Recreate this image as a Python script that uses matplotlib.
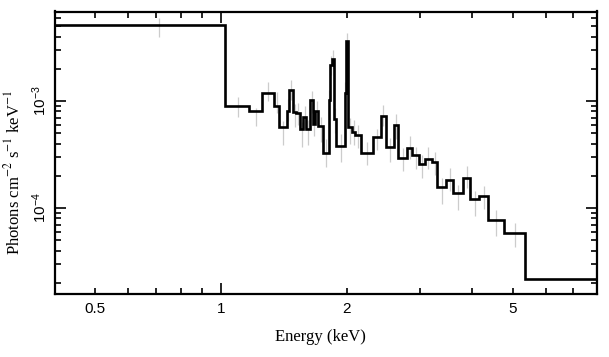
import matplotlib
matplotlib.use('Agg')
from matplotlib import pyplot as plt
from matplotlib.ticker import FixedLocator, FixedFormatter, LogLocator, NullFormatter
import numpy as np

# bin edges (keV) of the folded spectrum
edges = [0.4, 1.022, 1.169, 1.252, 1.342, 1.378, 1.437, 1.458, 1.492, 1.516,
         1.547, 1.573, 1.603, 1.635, 1.665, 1.682, 1.713, 1.761, 1.814, 1.825,
         1.845, 1.866, 1.892, 1.978, 1.994, 2.011, 2.058, 2.100, 2.169, 2.311,
         2.415, 2.487, 2.599, 2.650, 2.798, 2.867, 2.989, 3.085, 3.201, 3.302,
         3.464, 3.606, 3.811, 3.955, 4.164, 4.375, 4.771, 5.358, 10.5]

# model level in each bin (photons cm^-2 s^-1 keV^-1)
model = [5.13e-3, 8.98e-4, 8.01e-4, 1.20e-3, 8.98e-4, 5.75e-4, 8.11e-4, 1.28e-3,
         7.94e-4, 7.67e-4, 5.44e-4, 7.04e-4, 5.44e-4, 1.026e-3, 6.10e-4, 8.11e-4,
         5.84e-4, 3.30e-4, 1.015e-3, 2.17e-3, 2.45e-3, 6.75e-4, 3.76e-4, 1.18e-3,
         3.66e-3, 5.75e-4, 5.13e-4, 4.86e-4, 3.29e-4, 4.58e-4, 7.24e-4, 3.74e-4,
         5.97e-4, 2.91e-4, 3.61e-4, 3.13e-4, 2.58e-4, 2.85e-4, 2.71e-4, 1.58e-4,
         1.83e-4, 1.37e-4, 1.92e-4, 1.21e-4, 1.29e-4, 7.72e-5, 5.80e-5, 2.17e-5]

# data points with errors (light grey bars)
data = [5.0e-3, 9.0e-4, 7.2e-4, 1.25e-3, 1.0e-3, 5.2e-4, 8.5e-4, 1.3e-3,
        7.5e-4, 7.8e-4, 5.0e-4, 7.3e-4, 5.3e-4, 1.0e-3, 6.3e-4, 8.0e-4,
        5.6e-4, 3.4e-4, 1.0e-3, 2.2e-3, 2.5e-3, 6.8e-4, 3.8e-4, 1.2e-3,
        3.6e-3, 5.5e-4, 5.3e-4, 4.8e-4, 3.3e-4, 4.5e-4, 7.5e-4, 3.6e-4,
        6.0e-4, 2.9e-4, 3.8e-4, 3.0e-4, 2.5e-4, 3.0e-4, 2.7e-4, 1.5e-4,
        1.9e-4, 1.3e-4, 2.0e-4, 1.15e-4, 1.3e-4, 7.5e-5, 5.8e-5, 2.2e-5]
data_err = [1.0e-3, 1.9e-4, 1.4e-4, 2.5e-4, 2.2e-4, 1.3e-4, 2.0e-4, 2.8e-4,
            1.8e-4, 1.8e-4, 1.3e-4, 1.7e-4, 1.4e-4, 2.3e-4, 1.6e-4, 2.0e-4,
            1.5e-4, 1.0e-4, 2.6e-4, 4.5e-4, 5.0e-4, 1.8e-4, 1.1e-4, 3.0e-4,
            7.0e-4, 1.5e-4, 1.4e-4, 1.2e-4, 8.0e-5, 1.0e-4, 1.6e-4, 9.0e-5,
            1.6e-4, 7.0e-5, 9.0e-5, 7.0e-5, 6.0e-5, 7.0e-5, 6.5e-5, 4.0e-5,
            4.5e-5, 3.5e-5, 4.5e-5, 3.0e-5, 3.2e-5, 2.0e-5, 1.5e-5, 6.0e-6]

x_major = [1]
x_minor = [0.4, 0.5, 0.6, 0.7, 0.8, 0.9, 2, 3, 4, 5, 6, 7, 8]
x_minor_labels = ['', '0.5', '', '', '', '', '2', '', '', '5', '', '', '']

sans = ['Liberation Sans', 'DejaVu Sans']
serif = ['Liberation Serif', 'DejaVu Serif']

edges_a = np.array(edges)
centres = 0.5 * (edges_a[:-1] + edges_a[1:])

fig = plt.figure(figsize=(6.09, 3.57), dpi=100)
ax = fig.add_axes([55/609, 1 - 293.5/357, 542/609, 282/357])

ax.errorbar(centres, data, yerr=data_err, fmt='none', ecolor='#cccccc',
            elinewidth=0.9, capsize=0, zorder=1)
ax.stairs(model, edges, baseline=None, color='black', linewidth=1.9, zorder=2)

ax.set_xscale('log')
ax.set_yscale('log')
ax.set_xlim(0.4, 7.97)
ax.set_ylim(1.59e-5, 6.86e-3)

ax.xaxis.set_major_locator(FixedLocator(x_major))
ax.xaxis.set_major_formatter(FixedFormatter(['1']))
ax.xaxis.set_minor_locator(FixedLocator(x_minor))
ax.xaxis.set_minor_formatter(FixedFormatter(x_minor_labels))

ax.yaxis.set_major_locator(LogLocator(base=10, numticks=10))
ax.yaxis.set_minor_locator(LogLocator(base=10, subs=np.arange(2, 10), numticks=20))
ax.yaxis.set_minor_formatter(NullFormatter())

for sp in ax.spines.values():
    sp.set_linewidth(1.6)

ax.tick_params(which='both', direction='in', top=True, right=True, width=1.2)
ax.tick_params(which='major', length=8)
ax.tick_params(which='minor', length=4.5)
ax.tick_params(axis='x', which='both', pad=6, labelsize=11)
ax.tick_params(axis='y', which='major', labelsize=11, labelrotation=90, pad=4)

for lab in ax.get_xticklabels(which='both'):
    lab.set_family(sans)
for lab in ax.get_yticklabels():
    lab.set_family(sans)
    lab.set_va('center')
    lab.set_math_fontfamily('dejavusans')

ax.set_xlabel('Energy (keV)', family=serif, fontsize=12)
ax.set_ylabel(r'Photons cm$^{-2}$ s$^{-1}$ keV$^{-1}$', family=serif,
              fontsize=12, math_fontfamily='stix')
ax.xaxis.set_label_coords(0.49, -0.125)
ax.xaxis.label.set_va('top')
ax.yaxis.set_label_coords(-0.059, 0.431)

fig.savefig('out.png', dpi=100)
